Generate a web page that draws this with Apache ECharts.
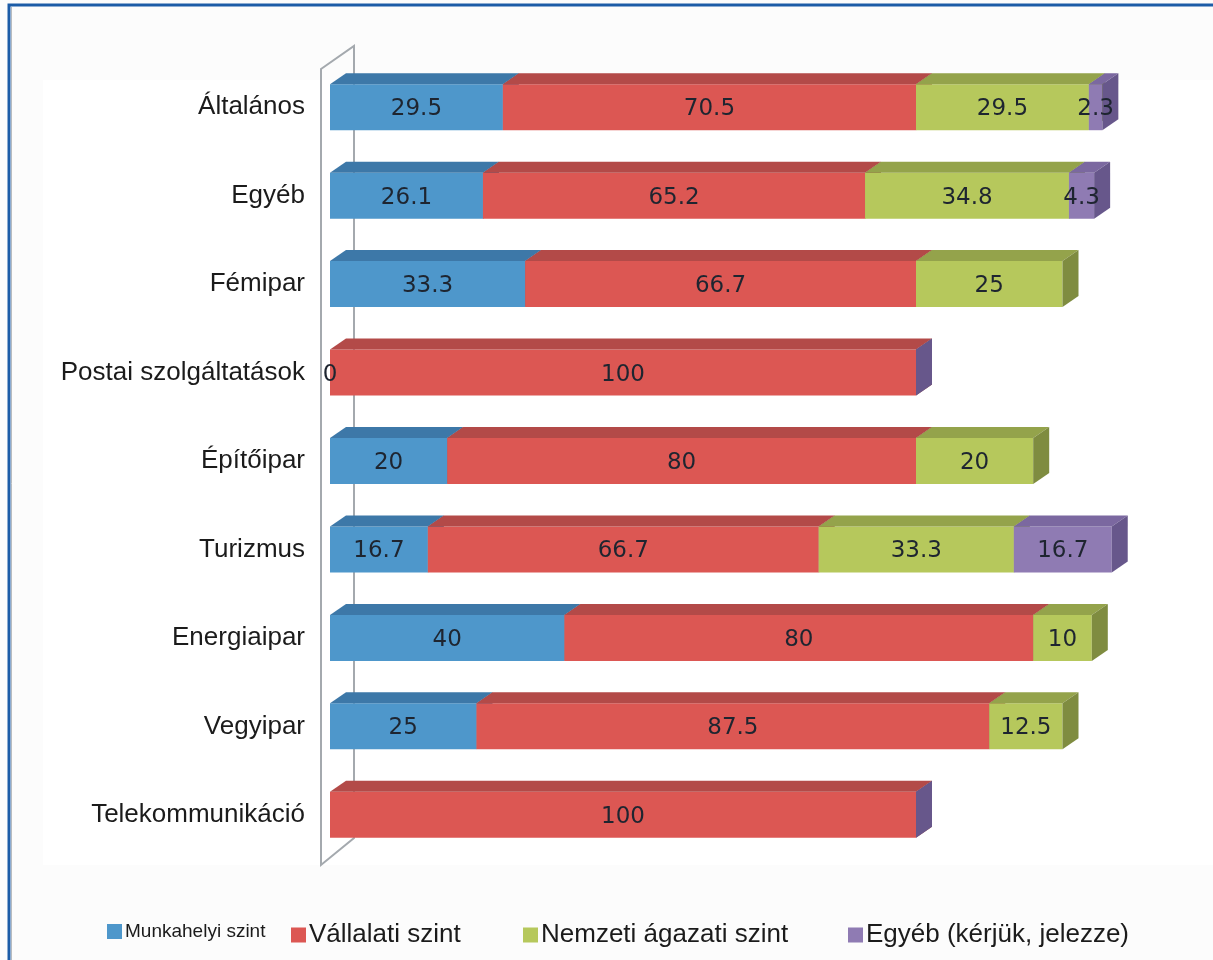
<!DOCTYPE html>
<html>
<head>
<meta charset="utf-8">
<script src="https://cdn.jsdelivr.net/npm/echarts@6/dist/echarts.min.js"></script>
<style>
html,body{margin:0;padding:0;background:#fcfcfc;}
#main{width:1213px;height:960px;}
</style>
</head>
<body>
<div id="main"></div>
<script>
// ---- data ----
const categories = ['Általános','Egyéb','Fémipar','Postai szolgáltatások','Építőipar','Turizmus','Energiaipar','Vegyipar','Telekommunikáció'];
const seriesNames = ['Munkahelyi szint','Vállalati szint','Nemzeti ágazati szint','Egyéb (kérjük, jelezze)'];
const munkahelyi = [29.5, 26.1, 33.3, 0, 20, 16.7, 40, 25, null];
const vallalati  = [70.5, 65.2, 66.7, 100, 80, 66.7, 80, 87.5, 100];
const nemzeti    = [29.5, 34.8, 25, null, 20, 33.3, 10, 12.5, null];
const egyeb      = [2.3, 4.3, null, null, null, 16.7, null, null, null];

// ---- styling ----
const palette = [
  {front:'#4e97cb', top:'#3d78a8', side:'#33658f'},
  {front:'#dc5753', top:'#b34a48', side:'#983f3d'},
  {front:'#b6c85c', top:'#94a34b', side:'#7f8c40'},
  {front:'#8f7bb3', top:'#7b68a0', side:'#67578b'}
];
const DX = 16, DY = 11, BAR_RATIO = 0.52;
const GRID = {left:330, top:63, height:796};

const allValues = [munkahelyi, vallalati, nemzeti, egyeb];

// build segment data [cat, start, end, value, drawSide]
const segData = allValues.map(() => []);
const labelData = [];
for (let i = 0; i < categories.length; i++) {
  let acc = 0;
  for (let s = 0; s < allValues.length; s++) {
    const v = allValues[s][i];
    const val = v == null ? 0 : v;
    let side = val > 0 ? 1 : 0;
    if (v == null && s > 0 && allValues[s-1][i] == null) side = 1;
    segData[s].push([i, acc, acc + val, val, side]);
    if (v != null) labelData.push([i, acc + val / 2, v]);
    acc += val;
  }
}

function makeRender(s) {
  const c = palette[s];
  return function (params, api) {
    const cat = api.value(0);
    const p0 = api.coord([api.value(1), cat]);
    const p1 = api.coord([api.value(2), cat]);
    const h = api.size([0, 1])[1] * BAR_RATIO;
    const top = p0[1] - h / 2, bot = p0[1] + h / 2;
    const x0 = p0[0], x1 = p1[0];
    const children = [];
    if (x1 - x0 > 0.01) {
      children.push({type:'rect', shape:{x:x0, y:top, width:x1 - x0, height:h}, style:{fill:c.front}});
      children.push({type:'polygon', shape:{points:[[x0,top],[x0+DX,top-DY],[x1+DX,top-DY],[x1,top]]}, style:{fill:c.top}});
    }
    if (api.value(4)) {
      children.push({type:'polygon', shape:{points:[[x1,top],[x1+DX,top-DY],[x1+DX,bot-DY],[x1,bot]]}, style:{fill:c.side}});
    }
    return {type:'group', children};
  };
}

const series = seriesNames.map((name, s) => ({
  name: name,
  type: 'custom',
  z: 2 + s,
  itemStyle: {color: palette[s].front},
  renderItem: makeRender(s),
  encode: {x: [1, 2], y: 0},
  data: segData[s],
  silent: true
}));

series.push({
  name: 'labels',
  type: 'custom',
  z: 20,
  silent: true,
  encode: {x: 1, y: 0},
  data: labelData,
  renderItem: function (params, api) {
    const p = api.coord([api.value(1), api.value(0)]);
    return {
      type: 'text',
      style: {
        text: String(labelData[params.dataIndex][2]),
        x: p[0], y: p[1] + 2,
        align: 'center', verticalAlign: 'middle',
        fill: '#1e2530',
        font: '23px "DejaVu Sans"'
      }
    };
  }
});

const legendPos = [102, 286, 518, 843];
const legendSizes = [19, 26, 26, 26];
const legends = seriesNames.map((name, s) => ({
  data: [{name: name, textStyle: {fontSize: legendSizes[s]}}],
  left: legendPos[s],
  top: 917,
  icon: 'rect',
  itemWidth: 15,
  itemHeight: 15,
  selectedMode: false,
  textStyle: {color: '#1b1b1b', fontFamily: '"Liberation Sans", Arial, sans-serif', padding: [0,0,0,-2]}
}));

const chart = echarts.init(document.getElementById('main'), null, {renderer: 'canvas'});
chart.setOption({
  backgroundColor: '#fcfcfc',
  animation: false,
  legend: legends,
  grid: {left: GRID.left, top: GRID.top, height: GRID.height, right: 4, outerBoundsMode: 'none', containLabel: false},
  xAxis: {type: 'value', min: 0, max: 150, show: false},
  yAxis: {
    type: 'category', data: categories, inverse: true,
    axisLine: {show: false}, axisTick: {show: false}, splitLine: {show: false},
    axisLabel: {margin: 25, fontSize: 26, color: '#1b1b1b', fontFamily: '"Liberation Sans", Arial, sans-serif'}
  },
  graphic: [
    {type: 'rect', z: -10, shape: {x: 43, y: 80, width: 1180, height: 785}, style: {fill: '#ffffff'}},
    {type: 'rect', z: 1, shape: {x: 9, y: 5, width: 1300, height: 1000}, style: {fill: 'none', stroke: '#1c5ca7', lineWidth: 3}},
    {type: 'line', z: 1, shape: {x1: 11.5, y1: 7, x2: 11.5, y2: 960}, style: {stroke: '#b8bcc0', lineWidth: 1}},
    {type: 'polygon', z: 1, shape: {points: [[321, 69], [354, 46], [354, 838], [321, 865]]}, style: {fill: 'none', stroke: '#a4a9ae', lineWidth: 2}}
  ],
  series: series
});
</script>
</body>
</html>
